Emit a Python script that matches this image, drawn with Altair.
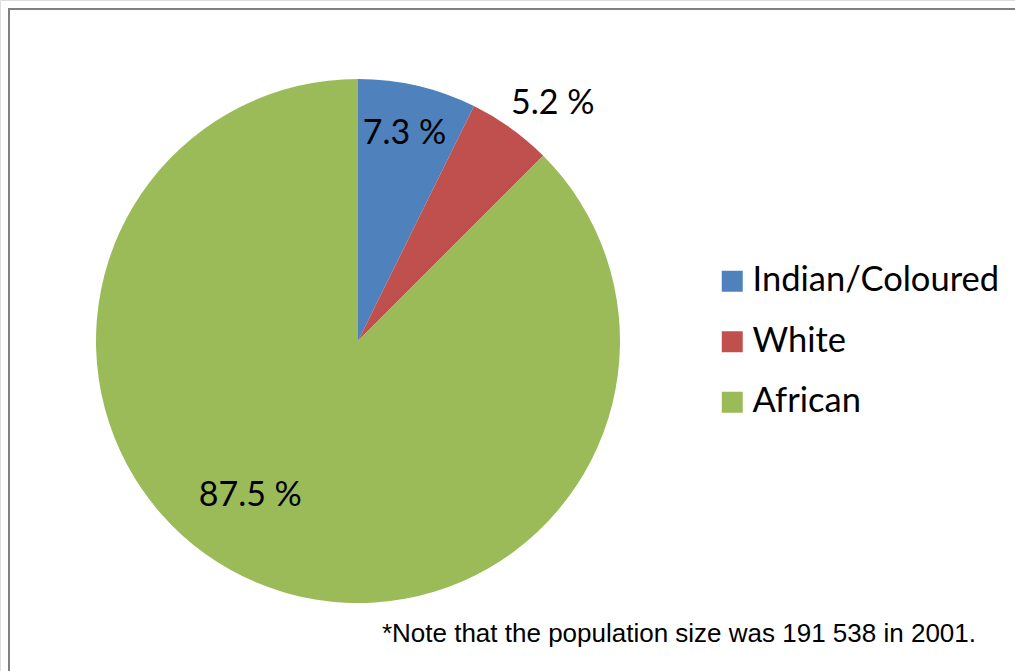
import altair as alt
import pandas as pd

categories = ["Indian/Coloured", "White", "African"]
shares = [7.3, 5.2, 87.5]
labels = ["7.3 %", "5.2 %", "87.5 %"]
colors = ["#4F81BD", "#C0504D", "#9BBB59"]
note = "*Note that the population size was 191 538 in 2001."

df = pd.DataFrame({"category": categories, "share": shares, "label": labels,
                   "order": list(range(len(categories)))})

CX, CY, R = 358, 341, 262
color_scale = alt.Scale(domain=categories, range=colors)

base = alt.Chart(df)

border = alt.Chart(pd.DataFrame({"a": [0]})).mark_rect(
    fill=None, stroke="#808080", strokeWidth=2
).encode(x=alt.value(9), y=alt.value(9), x2=alt.value(1040), y2=alt.value(700))

pie = base.mark_arc(outerRadius=R).encode(
    theta=alt.Theta("share:Q", stack=True),
    order=alt.Order("order:Q"),
    color=alt.Color("category:N", scale=color_scale, sort=categories,
                    legend=alt.Legend(title=None, orient="none", legendX=715, legendY=264,
                                      symbolType="square", symbolSize=441,
                                      symbolStrokeWidth=0,
                                      labelFont="Lato", labelFontSize=34.5,
                                      labelColor="#000000", labelLimit=400,
                                      rowPadding=25.5, labelOffset=3)),
    x=alt.value(CX), y=alt.value(CY),
)


def lab(cat, radius, dx=0, dy=0):
    return base.mark_text(radius=radius, fontSize=34, font="Lato", color="#000000",
                          dx=dx, dy=dy).encode(
        theta=alt.Theta("share:Q", stack=True),
        order=alt.Order("order:Q"),
        text="label:N",
        opacity=alt.condition(f"datum.category == '{cat}'", alt.value(1), alt.value(0)),
        x=alt.value(CX), y=alt.value(CY),
    )


text_layers = [lab(categories[0], 213, dx=-2),
               lab(categories[1], 305, dx=17, dy=11),
               lab(categories[2], 190, dx=-35, dy=-21)]

note_layer = alt.Chart(pd.DataFrame({"t": [note]})).mark_text(
    font="Liberation Sans", fontSize=26, align="right", baseline="middle", color="#000000"
).encode(text="t:N", x=alt.value(976), y=alt.value(634))

chart = alt.layer(border, pie, *text_layers, note_layer).properties(
    width=1015, height=671,
    autosize=alt.AutoSizeParams(type="none"),
    padding=0,
).configure_view(stroke=None).configure(background="#FFFFFF")

chart.save("out.html", embed_options={"renderer": "svg", "actions": False})
